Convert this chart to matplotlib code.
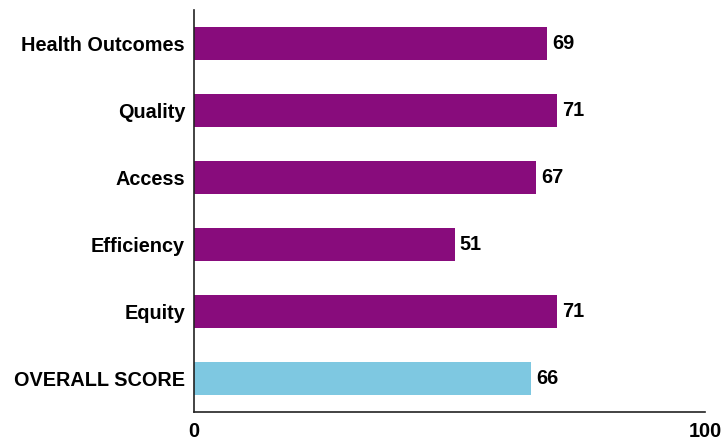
import matplotlib
matplotlib.use("Agg")
import matplotlib.pyplot as plt

categories = ["Health Outcomes", "Quality", "Access", "Efficiency", "Equity", "OVERALL SCORE"]
values = [69, 71, 67, 51, 71, 66]
colors = ["#880C7C"] * 5 + ["#7EC8E1"]
x_ticks = [0, 100]

plt.rcParams['font.family'] = ['Liberation Sans', 'DejaVu Sans']

fig = plt.figure(figsize=(7.24, 4.44), dpi=100)
ax = fig.add_axes([0.268, 0.072, 0.706, 0.9055])

ypos = list(range(len(categories)))
ax.barh(ypos, values, height=0.5, color=colors)
for y, v in zip(ypos, values):
    ax.text(v + 1, y, str(v), va='center', ha='left', fontsize=14.3, fontweight='bold')

ax.set_ylim(len(categories) - 0.5, -0.5)
ax.set_xlim(0, 100)
ax.set_yticks(ypos)
ax.set_yticklabels(categories, fontsize=14.3, fontweight='bold')
ax.set_xticks(x_ticks)
ax.set_xticklabels([str(t) for t in x_ticks], fontsize=14.3, fontweight='bold')
ax.tick_params(axis='both', length=0)
ax.tick_params(axis='y', pad=6.5)
ax.tick_params(axis='x', pad=7)
for s in ['top', 'right']:
    ax.spines[s].set_visible(False)
for s in ['left', 'bottom']:
    ax.spines[s].set_linewidth(1.2)
    ax.spines[s].set_color('#222222')

fig.savefig("out.png", dpi=100)
